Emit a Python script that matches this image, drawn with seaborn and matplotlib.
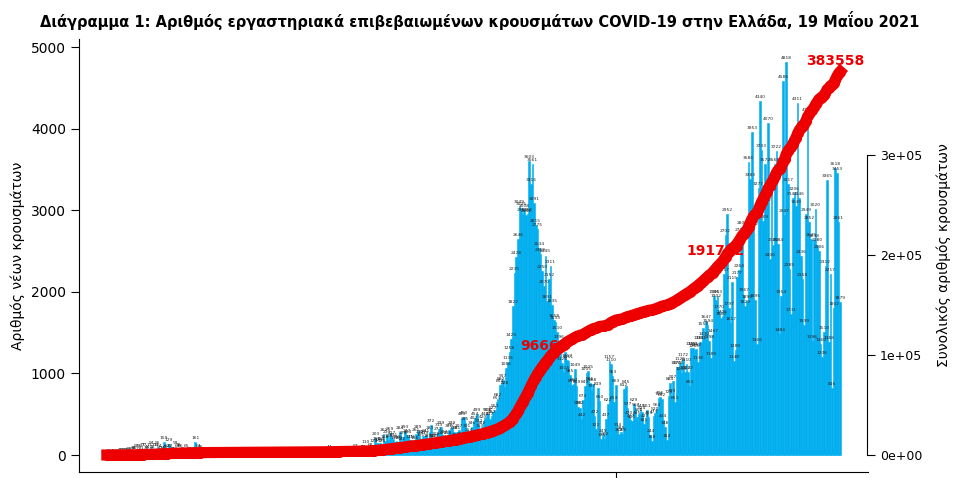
import numpy as np
import pandas as pd
import matplotlib
matplotlib.use("Agg")
import matplotlib.pyplot as plt
import seaborn as sns

# ============ DATA (daily new cases, 26 Feb 2020 - 19 May 2021) =============
feb20 = [1, 2, 0, 4]
mar20 = [0, 2, 0, 3, 10, 14, 7, 11, 16, 22, 15, 27, 38, 36, 58, 21, 56, 31, 77, 77, 34, 44, 71, 94, 48, 71, 74, 95, 64, 41, 34]
apr20 = [159, 45, 62, 129, 62, 18, 25, 93, 64, 78, 56, 20, 14, 10, 65, 19, 19, 16, 19, 161, 13, 64, 46, 29, 15, 12, 10, 7, 24, 14]
may20 = [15, 10, 4, 2, 7, 10, 11, 7, 6, 11, 8, 17, 8, 7, 2, 5, 9, 3, 8, 5, 10, 19, 10, 4, 3, 5, 13, 17, 15, 8, 8]
jun20 = [2, 8, 18, 18, 12, 4, 6, 11, 3, 12, 13, 19, 14, 3, 4, 7, 3, 10, 7, 20, 19, 6, 8, 13, 4, 13, 0, 15, 10, 23]
jul20 = [6, 22, 5, 6, 10, 30, 5, 13, 19, 25, 44, 24, 19, 35, 20, 22, 36, 32, 31, 27, 9, 31, 20, 20, 38, 22, 57, 25, 33, 41, 45]
aug20 = [43, 110, 30, 38, 68, 50, 124, 203, 151, 129, 150, 126, 262, 168, 230, 185, 269, 217, 191, 157, 169, 160, 284, 142, 220, 293, 247, 234, 171, 176, 108]
sep20 = [156, 261, 289, 232, 191, 237, 219, 241, 189, 283, 372, 182, 189, 208, 273, 313, 339, 221, 234, 171, 218, 307, 317, 339, 279, 198, 281, 307, 208, 453]
oct20 = [460, 395, 301, 254, 197, 346, 402, 454, 499, 372, 303, 342, 420, 448, 503, 508, 447, 480, 527, 551, 651, 682, 854, 880, 917, 828, 1066, 1136, 1258, 1423, 1822]
nov20 = [2235, 2428, 2646, 3049, 3025, 2954, 3008, 2941, 2956, 3603, 3316, 3561, 3091, 2815, 2775, 2534, 2469, 2250, 2070, 2445, 1891, 2152, 2311, 1835, 1658, 1633, 1510, 1396, 1245, 1125]
dec20 = [1014, 1266, 1167, 1151, 985, 859, 867, 1049, 849, 590, 582, 442, 674, 849, 1005, 1025, 885, 797, 868, 472, 322, 819, 660, 195, 249, 202, 437, 622, 1157, 1110, 963]
jan21 = [653, 863, 314, 262, 285, 260, 812, 845, 577, 470, 427, 421, 629, 567, 465, 508, 549, 524, 385, 427, 551, 463, 244, 168, 473, 520, 564, 702, 716, 692, 434]
feb21 = [348, 184, 723, 884, 729, 907, 651, 1076, 1076, 1125, 1003, 1172, 1013, 1110, 1022, 851, 1308, 1311, 1285, 1298, 1138, 1381, 1381, 1553, 1430, 1647, 1594, 1398]
mar21 = [1189, 1467, 1946, 1902, 1953, 1770, 1680, 1706, 2217, 2702, 2952, 1797, 1617, 2115, 1148, 1289, 2177, 2264, 2708, 2800, 1967, 1829, 1890, 3586, 3383, 3953, 2782, 1895, 1366, 3277, 4340]
apr21 = [3733, 2869, 3572, 3072, 4070, 2406, 3215, 2580, 3568, 3722, 2584, 1484, 1954, 4586, 2947, 4818, 3317, 2285, 1731, 3145, 3206, 3049, 4311, 3146, 2436, 2158, 1599, 2949, 4180, 2852]
may21 = [2645, 1396, 2638, 3020, 2580, 2506, 1360, 1206, 1510, 2312, 3365, 1388, 2217, 816, 1802, 3518, 3453, 2861, 1879]

daily = feb20 + mar20 + apr20 + may20 + jun20 + jul20 + aug20 + sep20 + oct20 + nov20 + dec20 + jan21 + feb21 + mar21 + apr21 + may21
# days whose cumulative total gets a red label
label_days = [270, 375]

TITLE = "Διάγραμμα 1: Αριθμός εργαστηριακά επιβεβαιωμένων κρουσμάτων COVID-19 στην Ελλάδα, 19 Μαΐου 2021"
# ==================================

df = pd.DataFrame({"day": np.arange(len(daily)), "cases": daily})
df["total"] = df["cases"].cumsum()

BAR = "#00AEEF"
RED = "#EE0000"

fig = plt.figure(figsize=(9.6, 4.78), dpi=100)
ax = fig.add_axes([0.0823, 0.0126, 0.8219, 0.906])
ax2 = ax.twinx()

sns.barplot(data=df, x="day", y="cases", native_scale=True, color=BAR,
            width=1.0, edgecolor=BAR, linewidth=0.4, saturation=1, ax=ax)
for d, v in zip(df["day"], df["cases"]):
    ax.text(d, v + 25, str(v), fontsize=3.2, ha="center", va="bottom", color="#222222")

ax.set_xlim(-17, 465)
ax.set_ylim(-208, 5100)
ax.set_yticks([0, 1000, 2000, 3000, 4000, 5000])
ax.set_xticks([311])
ax.set_xticklabels([""])
ax.set_xlabel("")
ax.set_ylabel("Αριθμός νέων κρουσμάτων", fontsize=10)
ax.tick_params(axis="y", labelsize=10, length=6)
ax.tick_params(axis="x", length=6)
ax.spines["top"].set_visible(False)
ax.spines["right"].set_visible(False)

sns.lineplot(data=df, x="day", y="total", color=RED, linewidth=8,
             marker="o", markersize=8, markeredgewidth=0, ax=ax2)
ax2.set_ylim(-17000, 416200)
ax2.set_yticks([0, 100000, 200000, 300000])
ax2.set_yticklabels(["0e+00", "1e+05", "2e+05", "3e+05"], rotation=90, va="center")
ax2.spines["right"].set_bounds(0, 300000)
ax2.spines["right"].set_position(("outward", -1))
for s in ["top", "left", "bottom"]:
    ax2.spines[s].set_visible(False)
ax2.tick_params(axis="y", labelsize=9, length=6)
ax2.set_ylabel("Συνολικός αριθμός κρουσμάτων", fontsize=10, labelpad=10)
ax2.set_xlabel("")

for d in label_days:
    t = df["total"].iloc[d]
    ax2.text(d - 3, t + 5000, str(t), color=RED, fontsize=10, fontweight="bold",
             ha="center", va="bottom")
last = df.iloc[-1]
ax2.text(last["day"] - 3, last["total"] + 4000, str(last["total"]), color=RED,
         fontsize=10, fontweight="bold", ha="center", va="bottom")

fig.text(0.5, 0.957, TITLE, ha="center", va="center", fontsize=10.5, fontweight="bold")

fig.savefig("out.png", dpi=100)
